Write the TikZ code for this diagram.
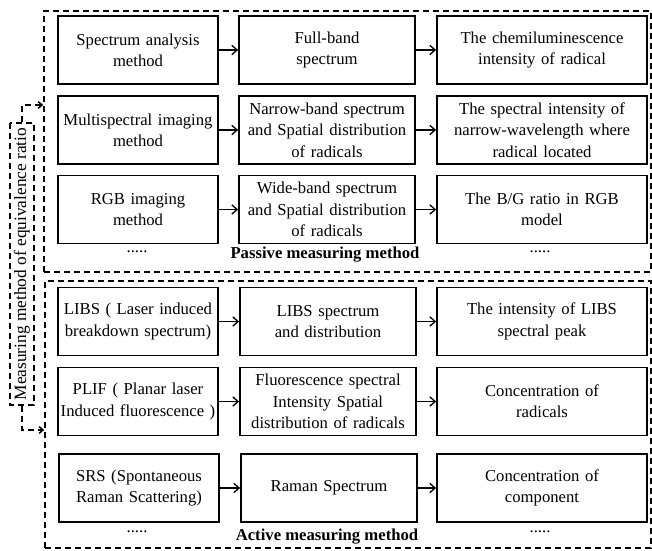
\documentclass[tikz,border=0pt]{standalone}
\usepackage{fontspec}
\setmainfont{Liberation Serif}
\usetikzlibrary{arrows.meta,positioning}

\begin{document}
\begin{tikzpicture}[x=0.75pt,y=-0.75pt,
  box/.style={draw,line width=1.3pt,align=center,inner sep=0pt,minimum height=51pt,font=\fontsize{12.5}{16}\selectfont},
  c1/.style={box,text width=120pt},
  c2/.style={box,text width=132pt},
  c3/.style={box,text width=157.5pt},
  grp/.style={draw,line width=1.1pt,dash pattern=on 4.5pt off 3pt,inner sep=0pt},
  arr/.style={-{Straight Barb[length=4pt,width=7pt]},line width=1pt},
  brk/.style={line width=1.1pt,dash pattern=on 4.5pt off 3pt},
  ttl/.style={font=\fontsize{12.5}{16}\selectfont\bfseries},
  dots/.style={font=\fontsize{12.5}{16}\selectfont}
]
  \useasboundingbox (0,0) rectangle (652,550);
  \node[grp,minimum width=455.25pt,minimum height=195.75pt] (passive) at (347.5,141.5) {};
  \node[grp,minimum width=454.5pt,minimum height=200.25pt] (active) at (348,414.5) {};
  \node[grp,rotate=90,minimum width=211.5pt,minimum height=18pt,font=\fontsize{13}{16}\selectfont] (lab) at (22,264) {Measuring method of equivalence ratio};

  \node[c1] (spec)   at (138,50)  {Spectrum analysis\\method};
  \node[c2] (full)   at (327,50)  {Full-band\\spectrum};
  \node[c3] (chem)   at (542,50)  {The chemiluminescence\\intensity of radical};
  \node[c1] (multi)  at (138,130) {Multispectral imaging\\method};
  \node[c2] (narrow) at (327,130) {Narrow-band spectrum\\and Spatial distribution\\of radicals};
  \node[c3] (nint)   at (542,130) {The spectral intensity of\\narrow-wavelength where\\radical located};
  \node[c1] (rgb)    at (138,209.5) {RGB imaging\\method};
  \node[c2] (wide)   at (327,209.5) {Wide-band spectrum\\and Spatial distribution\\of radicals};
  \node[c3] (bg)     at (542,209.5) {The B/G ratio in RGB\\model};
  \node[dots] (pd1) at (137,252) {.....};
  \node[dots] (pd3) at (540,252) {.....};
  \node[ttl] (ptitle) at (325,255) {Passive measuring method};

  \node[c1] (libs)   at (138,321.5) {LIBS ( Laser induced\\breakdown spectrum)};
  \node[c2] (libsd)  at (328,321.5) {LIBS spectrum\\and distribution};
  \node[c3] (lint)   at (542,321.5) {The intensity of LIBS\\spectral peak};
  \node[c1] (plif)   at (138,401.5) {PLIF ( Planar laser\\Induced fluorescence )};
  \node[c2] (fluo)   at (328,401.5) {Fluorescence spectral\\Intensity Spatial\\distribution of radicals};
  \node[c3] (conc)   at (542,401.5) {Concentration of\\radicals};
  \node[c1] (srs)    at (139,488) {SRS (Spontaneous\\Raman Scattering)};
  \node[c2] (raman)  at (329,488) {Raman Spectrum};
  \node[c3] (comp)   at (542,488) {Concentration of\\component};
  \node[dots] (ad1) at (137,532) {.....};
  \node[dots] (ad3) at (540,532) {.....};
  \node[ttl] (atitle) at (327,537) {Active measuring method};

  \draw[arr] (spec) -- (full);
  \draw[arr] (full) -- (chem);
  \draw[arr] (multi) -- (narrow);
  \draw[arr] (narrow) -- (nint);
  \draw[arr] (rgb) -- (wide);
  \draw[arr] (wide) -- (bg);
  \draw[arr] (libs) -- (libsd);
  \draw[arr] (libsd) -- (lint);
  \draw[arr] (plif) -- (fluo);
  \draw[arr] (fluo) -- (conc);
  \draw[arr] (srs) -- (raman);
  \draw[arr] (raman) -- (comp);

  \coordinate (ptop) at (22,105);
  \coordinate (pbot) at (22,430);
  \draw[brk,-{Straight Barb[length=3pt,width=5pt]}] (lab.east) -- (ptop) -- (ptop -| passive.west);
  \draw[brk,-{Straight Barb[length=3pt,width=5pt]}] (lab.west) -- (pbot) -- (pbot -| active.west);
\end{tikzpicture}
\end{document}
